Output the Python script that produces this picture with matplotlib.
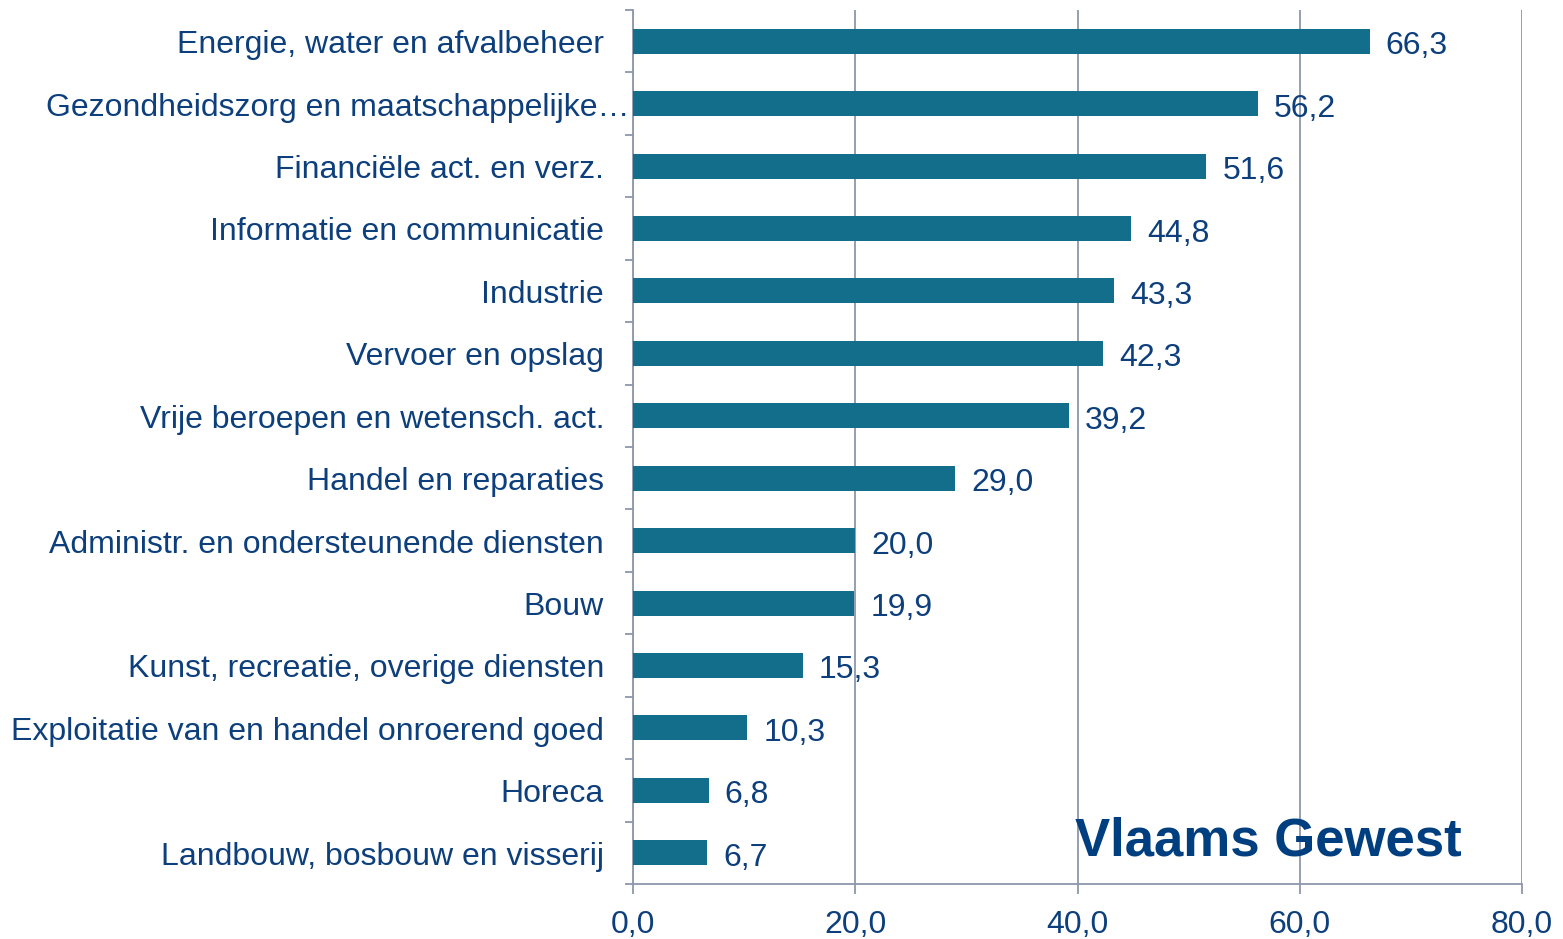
import matplotlib
matplotlib.use("Agg")
import matplotlib.pyplot as plt
from matplotlib.ticker import FixedLocator

categories = [
    "Energie, water en afvalbeheer",
    "Gezondheidszorg en maatschappelijke…",
    "Financiële act. en verz.",
    "Informatie en communicatie",
    "Industrie",
    "Vervoer en opslag",
    "Vrije beroepen en wetensch. act.",
    "Handel en reparaties",
    "Administr. en ondersteunende diensten",
    "Bouw",
    "Kunst, recreatie, overige diensten",
    "Exploitatie van en handel onroerend goed",
    "Horeca",
    "Landbouw, bosbouw en visserij",
]
values = [66.3, 56.2, 51.6, 44.8, 43.3, 42.3, 39.2, 29.0, 20.0, 19.9, 15.3, 10.3, 6.8, 6.7]
xticks = [0, 20, 40, 60, 80]
title = "Vlaams Gewest"

bar_color = "#126E8A"
text_color = "#0D3F7C"
title_color = "#003F7F"
grid_color = "#8E97AD"

plt.rcParams['font.family'] = ['Liberation Sans', 'DejaVu Sans']

fig = plt.figure(figsize=(15.63, 9.39), dpi=100)
ax = fig.add_axes([633/1563, 55/939, (1522-633)/1563, (884-10)/939])

n = len(categories)
ypos = list(range(n))
ax.barh(ypos, values, height=0.4, color=bar_color, zorder=3)
ax.set_xlim(0, 80)
ax.set_ylim(n - 0.5, -0.5)

# grid
ax.set_xticks(xticks)
ax.set_xticklabels([f"{t:.1f}".replace(".", ",") for t in xticks], fontsize=23, color=text_color)
ax.xaxis.grid(True, color=grid_color, linewidth=1.3, zorder=0)
ax.tick_params(axis='x', direction='out', length=7, width=1.3, color=grid_color, pad=12)

# y ticks at category boundaries
ax.set_yticks([])
ax.yaxis.set_minor_locator(FixedLocator([i - 0.5 for i in range(n + 1)]))
ax.tick_params(axis='y', which='minor', direction='out', length=6, width=1.3, color=grid_color)

for s in ['top', 'right']:
    ax.spines[s].set_visible(False)
for s in ['left', 'bottom']:
    ax.spines[s].set_color(grid_color)
    ax.spines[s].set_linewidth(1.3)

# category labels
for i, lab in enumerate(categories):
    off = -29 if not lab.endswith("…") else -4
    ax.annotate(lab, xy=(0, i), xycoords=('axes fraction', 'data'),
                xytext=(off, -4), textcoords='offset pixels',
                ha='right', va='center', fontsize=23, color=text_color,
                annotation_clip=False)

# value labels
for i, v in enumerate(values):
    ax.annotate(f"{v:.1f}".replace(".", ","), xy=(v, i), xytext=(16, -5),
                textcoords='offset pixels', ha='left', va='center',
                fontsize=23, color=text_color)

fig.text(1075/1563, (939-856)/939, title, ha='left', va='baseline',
         fontsize=38, fontweight='bold', color=title_color)

fig.savefig("out.png", dpi=100)
